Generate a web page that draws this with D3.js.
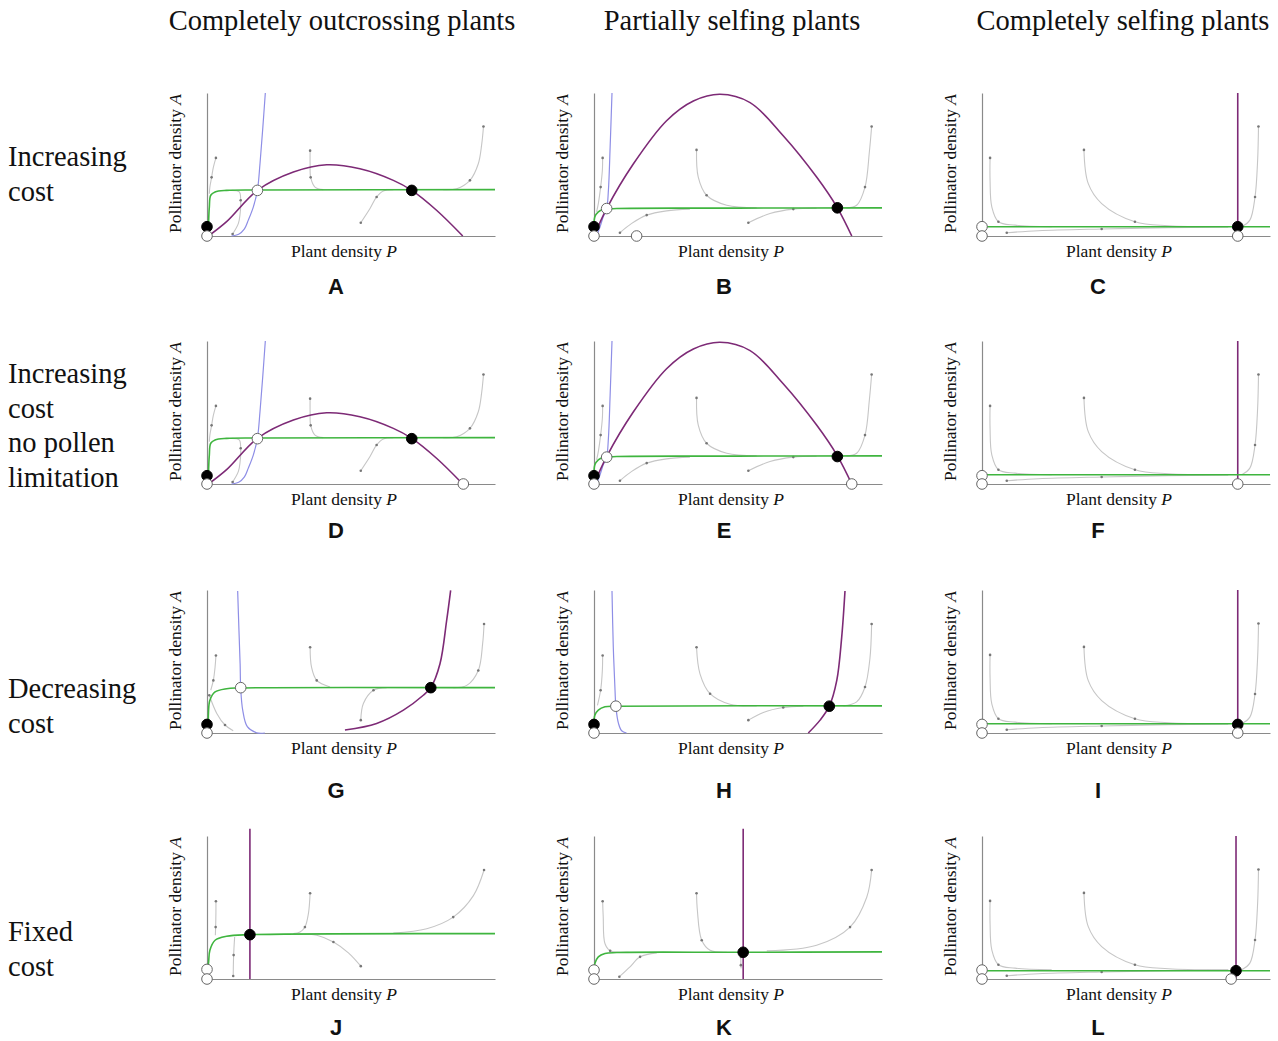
<!DOCTYPE html>
<html>
<head>
<meta charset="utf-8">
<script src="https://cdn.jsdelivr.net/npm/d3@7"></script>
<style>
  body { margin: 0; background: #fff; }
  svg text { font-family: "Liberation Serif", "DejaVu Serif", serif; fill: #111; }
  .letter { font-family: "Liberation Sans", Arial, sans-serif !important; font-weight: bold; }
</style>
</head>
<body>
<svg id="chart" width="1278" height="1041"></svg>
<script>
// ---- text ----
const columnTitles = ["Completely outcrossing plants", "Partially selfing plants", "Completely selfing plants"];
const rowLabels = [["Increasing", "cost"], ["Increasing", "cost", "no pollen", "limitation"], ["Decreasing", "cost"], ["Fixed", "cost"]];
const panelLetters = ["A", "B", "C", "D", "E", "F", "G", "H", "I", "J", "K", "L"];

// ---- curves, (P, A), both axes scaled 0..1 ----
// outcrossing, increasing cost (A, D)
const greenA = [[0.005,0.065],[0.008,0.2],[0.013,0.285],[0.028,0.308],[0.068,0.319],[0.18,0.322],[1,0.324]];
const blueA = [[0.085,0],[0.11,0.012],[0.13,0.05],[0.1435,0.111],[0.161,0.204],[0.175,0.319],[0.184,0.505],[0.193,0.736],[0.2025,1]];
const purpleA = [[0.005,0],[0.068,0.1],[0.175,0.319],[0.3,0.447],[0.4155,0.498],[0.531,0.47],[0.647,0.389],[0.711,0.319],[0.797,0.18],[0.888,0]];
const trajA = [
  [[0.031,0.546],[0.022,0.48],[0.016,0.41],[0.01,0.342],[0.008,0.296]],
  [[0.358,0.597],[0.358,0.505],[0.36,0.41],[0.375,0.342],[0.404,0.324]],
  [[0.534,0.093],[0.566,0.192],[0.589,0.273],[0.612,0.315],[0.647,0.324]],
  [[0.96,0.766],[0.954,0.644],[0.942,0.505],[0.913,0.389],[0.867,0.331],[0.82,0.324]],
  [[0.089,0.014],[0.109,0.088],[0.115,0.157],[0.117,0.25],[0.112,0.308],[0.086,0.319]]
];
const eqA = [[0,0.065,1],[0,0,0],[0.175,0.319,0],[0.711,0.319,1]];
const eqD = [[0,0.058,1],[0,0,0],[0.175,0.317,0],[0.711,0.317,1],[0.89,0,0]];

// partially selfing, increasing cost (B, E)
const greenB = [[0,0.065],[0.003,0.134],[0.015,0.169],[0.032,0.185],[0.079,0.192],[0.5,0.195],[1,0.197]];
const blueB = [[0.009,0],[0.021,0.065],[0.032,0.134],[0.044,0.192],[0.05,0.319],[0.056,0.62],[0.0625,1]];
const purpleB = [[0,0],[0.044,0.192],[0.137,0.505],[0.252,0.806],[0.345,0.944],[0.4375,0.991],[0.542,0.933],[0.657,0.701],[0.773,0.412],[0.845,0.197],[0.895,0]];
const trajB = [
  [[0.03,0.546],[0.029,0.458],[0.023,0.342],[0.015,0.227],[0.009,0.169]],
  [[0.356,0.602],[0.362,0.412],[0.391,0.285],[0.461,0.215],[0.565,0.197]],
  [[0.536,0.093],[0.611,0.157],[0.692,0.188],[0.773,0.194]],
  [[0.964,0.766],[0.956,0.586],[0.941,0.342],[0.912,0.215],[0.877,0.197]],
  [[0.09,0.023],[0.131,0.088],[0.183,0.146],[0.252,0.176],[0.333,0.188]]
];
const eqB = [[0,0.065,1],[0,0,0],[0.044,0.192,0],[0.845,0.197,1],[0.148,0,0]];
const eqE = [[0,0.058,1],[0,0,0],[0.044,0.188,0],[0.845,0.192,1],[0.895,0,0]];

// completely selfing (C, F, I, L)
const greenC = [[0,0.065],[1,0.065]];
const purpleC = [[0.888,0],[0.888,1]];
const trajC = [
  [[0.028,0.546],[0.028,0.389],[0.034,0.204],[0.057,0.1],[0.115,0.076],[0.242,0.065]],
  [[0.354,0.602],[0.369,0.366],[0.4155,0.227],[0.531,0.1],[0.647,0.072],[0.855,0.065]],
  [[0.96,0.766],[0.957,0.528],[0.948,0.273],[0.93,0.111],[0.902,0.065]],
  [[0.086,0.023],[0.196,0.037],[0.4155,0.049],[0.647,0.058],[0.855,0.063]]
];
const eqC = [[0,0.065,0],[0,0,0],[0.888,0.065,1],[0.888,0,0]];
const eqF = [[0,0.058,0],[0,0,0],[0.888,0,0]];
const eqI = [[0,0.06,0],[0,0,0],[0.888,0.06,1],[0.888,0,0]];
const greenL = [[0,0.058],[1,0.058]];
const purpleL = [[0.882,0],[0.882,1]];
const eqL = [[0,0.0625,0],[0,0,0],[0.882,0.058,1],[0.865,0,0]];

// outcrossing, decreasing cost (G)
const greenG = [[0.005,0.06],[0.005,0.137],[0.01,0.229],[0.028,0.287],[0.068,0.31],[0.115,0.315],[1,0.317]];
const blueG = [[0.1065,0.993],[0.111,0.715],[0.115,0.484],[0.117,0.315],[0.124,0.16],[0.14,0.044],[0.172,0.002],[0.201,0]];
const purpleG = [[0.479,0.021],[0.589,0.067],[0.682,0.16],[0.751,0.264],[0.777,0.317],[0.809,0.484],[0.832,0.785],[0.846,0.998]];
const trajG = [
  [[0.031,0.542],[0.028,0.46],[0.022,0.368],[0.013,0.299]],
  [[0.008,0.264],[0.034,0.137],[0.0625,0.056],[0.091,0.016]],
  [[0.358,0.6],[0.363,0.46],[0.381,0.368],[0.427,0.322]],
  [[0.534,0.09],[0.543,0.206],[0.578,0.299],[0.624,0.317]],
  [[0.962,0.762],[0.957,0.623],[0.942,0.4375],[0.902,0.333],[0.855,0.317]]
];
const eqG = [[0,0.06,1],[0,0,0],[0.117,0.317,0],[0.777,0.317,1]];

// partially selfing, decreasing cost (H)
const greenH = [[0,0.06],[0.003,0.125],[0.015,0.16],[0.038,0.183],[0.079,0.1875],[1,0.19]];
const blueH = [[0.0625,0.993],[0.067,0.6],[0.073,0.299],[0.076,0.183],[0.085,0.067],[0.096,0.016],[0.113,0]];
const purpleH = [[0.744,0],[0.785,0.09],[0.817,0.1875],[0.843,0.368],[0.86,0.669],[0.8715,0.993]];
const trajH = [
  [[0.03,0.542],[0.029,0.4375],[0.023,0.299],[0.012,0.194]],
  [[0.356,0.6],[0.368,0.414],[0.403,0.275],[0.472,0.201],[0.565,0.19]],
  [[0.536,0.09],[0.588,0.144],[0.657,0.178],[0.727,0.1875]],
  [[0.964,0.762],[0.958,0.519],[0.941,0.322],[0.912,0.218],[0.866,0.19]]
];
const eqH = [[0,0.06,1],[0,0,0],[0.076,0.1875,0],[0.817,0.1875,1]];

// outcrossing, fixed cost (J)
const greenJ = [[0,0.067],[0.005,0.109],[0.01,0.201],[0.028,0.271],[0.068,0.299],[0.149,0.31],[1,0.317]];
const purpleJ = [[0.149,0],[0.149,1.05]];
const trajJ = [
  [[0.031,0.544],[0.031,0.467],[0.03,0.363],[0.029,0.306]],
  [[0.091,0.021],[0.0925,0.167],[0.096,0.294]],
  [[0.358,0.6],[0.352,0.456],[0.34,0.363],[0.323,0.328],[0.3,0.317]],
  [[0.534,0.09],[0.491,0.183],[0.439,0.259],[0.381,0.306],[0.323,0.315]],
  [[0.962,0.762],[0.925,0.583],[0.855,0.433],[0.763,0.352],[0.647,0.322]]
];
const eqJ = [[0,0.067,0],[0,0,0],[0.149,0.31,1]];

// partially selfing, fixed cost (K)
const greenK = [[0,0.0625],[0.003,0.109],[0.015,0.155],[0.038,0.178],[0.079,0.185],[0.518,0.187],[1,0.19]];
const purpleK = [[0.518,0],[0.518,1.05]];
const trajK = [
  [[0.03,0.544],[0.032,0.4375],[0.038,0.248],[0.056,0.197],[0.113,0.187],[0.194,0.185]],
  [[0.088,0.016],[0.125,0.085],[0.16,0.155],[0.218,0.183]],
  [[0.356,0.6],[0.359,0.479],[0.374,0.271],[0.403,0.201],[0.461,0.187]],
  [[0.964,0.762],[0.947,0.572],[0.889,0.363],[0.773,0.236],[0.6,0.197]],
  [[0.51,0.155],[0.51,0.097],[0.511,0.074]]
];
const eqK = [[0,0.0625,0],[0,0,0],[0.518,0.187,1]];

// panel table built from the arrays above
const panels = [
  {green: greenA, blue: blueA, purple: purpleA, traj: trajA, eq: eqA},
  {green: greenB, blue: blueB, purple: purpleB, traj: trajB, eq: eqB},
  {green: greenC, blue: null, purple: purpleC, traj: trajC, eq: eqC},
  {green: greenA, blue: blueA, purple: purpleA, traj: trajA, eq: eqD},
  {green: greenB, blue: blueB, purple: purpleB, traj: trajB, eq: eqE},
  {green: greenC, blue: null, purple: purpleC, traj: trajC, eq: eqF},
  {green: greenG, blue: blueG, purple: purpleG, traj: trajG, eq: eqG},
  {green: greenH, blue: blueH, purple: purpleH, traj: trajH, eq: eqH},
  {green: greenC, blue: null, purple: purpleC, traj: trajC, eq: eqI},
  {green: greenJ, blue: null, purple: purpleJ, traj: trajJ, eq: eqJ},
  {green: greenK, blue: null, purple: purpleK, traj: trajK, eq: eqK},
  {green: greenL, blue: null, purple: purpleL, traj: trajC, eq: eqL}
];

// ---- layout ----
const colX = [207, 594, 982];
const rowY = [236, 484, 733, 979];
const letterX = [336, 724, 1098];
const letterY = [294, 538, 798, 1035];
const plotW = 288, plotH = 143;

const svg = d3.select("#chart");

svg.selectAll("text.coltitle")
  .data(columnTitles)
  .enter().append("text")
  .attr("class", "coltitle")
  .attr("x", (d, i) => [342, 732, 1123][i])
  .attr("y", 30)
  .attr("text-anchor", "middle")
  .style("font-size", "28.5px")
  .text(d => d);

const rowBase = [166, 383, 698, 941];
rowLabels.forEach(function(lines, r) {
  const t = svg.append("text").attr("x", 8).attr("y", rowBase[r]).style("font-size", "28.5px");
  lines.forEach(function(l, k) {
    t.append("tspan").attr("x", 8).attr("dy", k === 0 ? 0 : 34.5).text(l);
  });
});

const x = d3.scaleLinear().domain([0, 1]).range([0, plotW]);
const y = d3.scaleLinear().domain([0, 1]).range([plotH, 0]);
const line = d3.line()
  .x(d => x(d[0]))
  .y(d => y(d[1]))
  .curve(d3.curveCatmullRom.alpha(0.5));

panels.forEach(function(p, i) {
  const col = i % 3, row = Math.floor(i / 3);
  const g = svg.append("g").attr("transform", "translate(" + colX[col] + "," + (rowY[row] - plotH) + ")");

  // axes, no ticks
  g.append("g").attr("transform", "translate(0," + plotH + ")")
    .call(d3.axisBottom(x).tickValues([]).tickSizeOuter(0));
  g.append("g").call(d3.axisLeft(y).tickValues([]).tickSizeOuter(0));
  g.selectAll(".domain").attr("stroke", "#8a8a8a").attr("stroke-width", 1.2);

  // trajectories
  p.traj.forEach(function(t) {
    g.append("path").attr("d", line(t)).attr("fill", "none")
      .attr("stroke", "#c6c6c6").attr("stroke-width", 1.1);
    const mid = t[Math.floor(t.length / 2)];
    g.selectAll(null).data([t[0], mid]).enter().append("circle")
      .attr("cx", d => x(d[0])).attr("cy", d => y(d[1])).attr("r", 1.3)
      .attr("fill", "#777");
  });

  if (p.blue) {
    g.append("path").attr("d", line(p.blue)).attr("fill", "none")
      .attr("stroke", "#8e8ee6").attr("stroke-width", 1.2);
  }
  g.append("path").attr("d", line(p.purple)).attr("fill", "none")
    .attr("stroke", "#7d2a76").attr("stroke-width", 1.6);
  g.append("path").attr("d", line(p.green)).attr("fill", "none")
    .attr("stroke", "#3fb53f").attr("stroke-width", 1.6);

  g.selectAll("circle.eq").data(p.eq).enter().append("circle")
    .attr("class", "eq")
    .attr("cx", d => x(d[0])).attr("cy", d => y(d[1])).attr("r", 5.3)
    .attr("fill", d => d[2] ? "#000" : "#fff")
    .attr("stroke", d => d[2] ? "#000" : "#666")
    .attr("stroke-width", 1);

  // axis labels
  const xl = g.append("text").attr("x", 137).attr("y", plotH + 21)
    .attr("text-anchor", "middle").style("font-size", "17.5px");
  xl.append("tspan").text("Plant density ");
  xl.append("tspan").style("font-style", "italic").text("P");

  const yl = g.append("text").attr("transform", "translate(-26," + (plotH / 2 - 1) + ") rotate(-90)")
    .attr("text-anchor", "middle").style("font-size", "17.5px");
  yl.append("tspan").text("Pollinator density ");
  yl.append("tspan").style("font-style", "italic").text("A");

  svg.append("text").attr("class", "letter")
    .attr("x", letterX[col]).attr("y", letterY[row])
    .attr("text-anchor", "middle").style("font-size", "22px")
    .text(panelLetters[i]);
});
</script>
</body>
</html>
